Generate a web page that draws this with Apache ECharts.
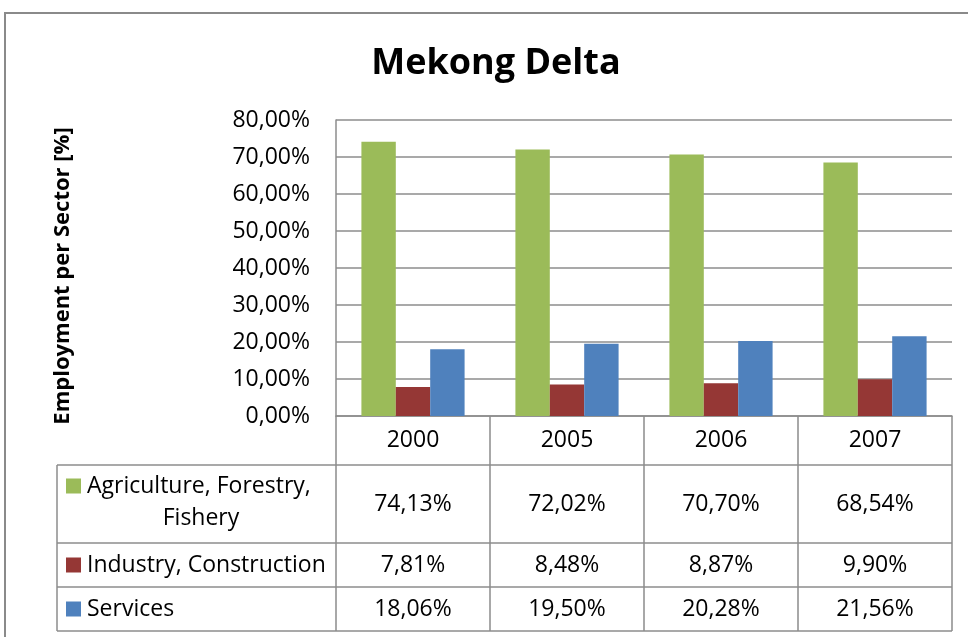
<!DOCTYPE html>
<html>
<head>
<meta charset="utf-8">
<script src="https://cdn.jsdelivr.net/npm/echarts@6/dist/echarts.min.js"></script>
<style>
    html, body { margin: 0; padding: 0; background: #fff; }
    #main { width: 968px; height: 637px; }
</style>
</head>
<body>
<div id="main"></div>
<script>
    // 数据
    var years = ['2000', '2005', '2006', '2007'];
    var sectors = ['Agriculture, Forestry, Fishery', 'Industry, Construction', 'Services'];
    var agriculture = [74.13, 72.02, 70.70, 68.54];
    var industry = [7.81, 8.48, 8.87, 9.90];
    var services = [18.06, 19.50, 20.28, 21.56];
    var yTicks = [0, 10, 20, 30, 40, 50, 60, 70, 80];

    var colors = ['#9BBB59', '#953735', '#4F81BD'];
    var font = '"Open Sans", sans-serif';
    var lineColor = '#8c8c8c';
    var fs = 23;

    var pct = function(v){
        return v.toFixed(2).replace('.', ',') + '%';
    };

    var myChart = echarts.init(document.getElementById('main'));

    var option = {
        animation: false,
        color: colors,
        title: {
            text: 'Mekong Delta',
            left: 491,
            top: 41,
            textAlign: 'center',
            textStyle: { fontFamily: font, fontWeight: 'bold', fontSize: 36, color: '#000' }
        },
        grid: { left: 336, right: 16, top: 120, bottom: 221 },
        xAxis: {
            type: 'category',
            data: years,
            axisLine: { lineStyle: { color: lineColor, width: 1.5 } },
            axisTick: { show: true, length: 215, lineStyle: { color: lineColor, width: 1.5 } },
            axisLabel: { margin: 13, fontFamily: font, fontSize: fs, color: '#000' }
        },
        yAxis: {
            type: 'value',
            min: yTicks[0],
            max: yTicks[yTicks.length - 1],
            interval: 10,
            name: 'Employment per Sector [%]',
            nameLocation: 'middle',
            nameGap: 262,
            nameTextStyle: { fontFamily: font, fontWeight: 'bold', fontSize: 22, color: '#000', padding: [0, 16, 0, 0] },
            axisLine: { show: true, lineStyle: { color: lineColor, width: 1.5 } },
            axisTick: { show: false },
            axisLabel: { margin: 26, fontFamily: font, fontSize: fs, color: '#000', formatter: pct },
            splitLine: { lineStyle: { color: lineColor, width: 1.5 } }
        },
        series: [
            { name: sectors[0], type: 'bar', data: agriculture, barGap: '0%', barCategoryGap: '33%' },
            { name: sectors[1], type: 'bar', data: industry, barGap: '0%', barCategoryGap: '33%' },
            { name: sectors[2], type: 'bar', data: services, barGap: '0%', barCategoryGap: '33%' }
        ]
    };
    myChart.setOption(option);

    // 数据表
    var rows = [agriculture, industry, services];
    var rowTop = [465, 543, 587];
    var rowBottom = [543, 587, 631];
    var tableLeft = 57;
    var x0 = myChart.convertToPixel({ xAxisIndex: 0 }, 0);
    var x1 = myChart.convertToPixel({ xAxisIndex: 0 }, 1);
    var half = (x1 - x0) / 2;
    var tableRight = myChart.convertToPixel({ xAxisIndex: 0 }, years.length - 1) + half;

    var elements = [];
    // 外框
    elements.push({
        type: 'rect',
        shape: { x: 5, y: 13, width: 1000, height: 700 },
        style: { fill: 'none', stroke: '#8a8a8a', lineWidth: 2 },
        silent: true
    });
    // 横线
    var hLines = [465, 543, 587, 631];
    hLines.forEach(function(y){
        elements.push({
            type: 'line',
            shape: { x1: tableLeft, y1: y, x2: tableRight, y2: y },
            style: { stroke: lineColor, lineWidth: 1.5 }
        });
    });
    elements.push({
        type: 'line',
        shape: { x1: tableLeft, y1: 465, x2: tableLeft, y2: 631 },
        style: { stroke: lineColor, lineWidth: 1.5 }
    });

    var labelText = ['Agriculture, Forestry,', 'Industry, Construction', 'Services'];
    rows.forEach(function(vals, r){
        var cy = (rowTop[r] + rowBottom[r]) / 2;
        var keyY = r === 0 ? 486 : cy;
        elements.push({
            type: 'rect',
            shape: { x: 66, y: keyY - 7.5, width: 15, height: 15 },
            style: { fill: colors[r] }
        });
        elements.push({
            type: 'text',
            x: 87, y: keyY,
            style: { text: labelText[r], font: fs + 'px ' + font, fill: '#000', align: 'left', verticalAlign: 'middle' }
        });
        vals.forEach(function(v, i){
            elements.push({
                type: 'text',
                x: myChart.convertToPixel({ xAxisIndex: 0 }, i), y: cy,
                style: { text: pct(v), font: fs + 'px ' + font, fill: '#000', align: 'center', verticalAlign: 'middle' }
            });
        });
    });
    elements.push({
        type: 'text',
        x: 201, y: 518,
        style: { text: 'Fishery', font: fs + 'px ' + font, fill: '#000', align: 'center', verticalAlign: 'middle' }
    });

    myChart.setOption({ graphic: elements });
</script>
</body>
</html>
